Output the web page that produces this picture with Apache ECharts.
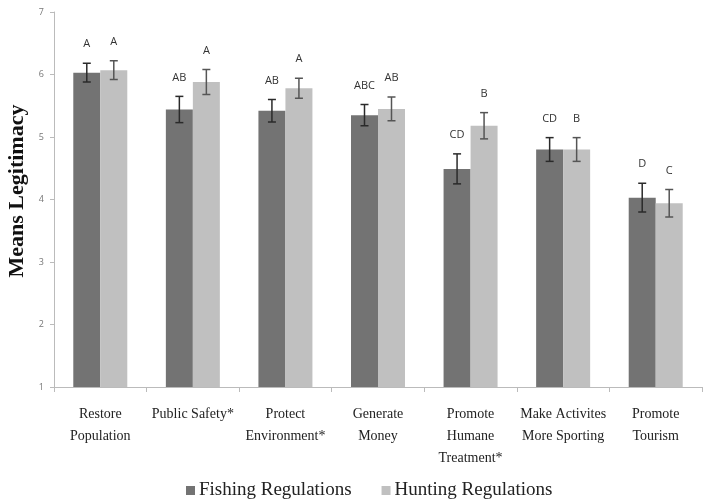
<!DOCTYPE html>
<html>
<head>
<meta charset="utf-8">
<script src="https://cdn.jsdelivr.net/npm/echarts@6/dist/echarts.min.js"></script>
<style>
  html, body { margin: 0; padding: 0; background: #fff; }
  #chart { width: 703px; height: 501px; }
</style>
</head>
<body>
<div id="chart"></div>
<script>
// Perceived legitimacy of regulation purposes (means with standard error)
const categories = [
  'Restore\nPopulation',
  'Public Safety*',
  'Protect\nEnvironment*',
  'Generate\nMoney',
  'Promote\nHumane\nTreatment*',
  'Make Activites\nMore Sporting',
  'Promote\nTourism'
];
const fishingMeans = [6.03, 5.44, 5.42, 5.35, 4.49, 4.80, 4.03];
const huntingMeans = [6.07, 5.88, 5.78, 5.45, 5.18, 4.80, 3.94];
const fishingErr = [0.15, 0.21, 0.18, 0.17, 0.24, 0.19, 0.23];
const huntingErr = [0.15, 0.20, 0.16, 0.19, 0.21, 0.19, 0.22];
const fishingLetters = ['A', 'AB', 'AB', 'ABC', 'CD', 'CD', 'D'];
const huntingLetters = ['A', 'A', 'A', 'AB', 'B', 'B', 'C'];
const yTicks = [1, 2, 3, 4, 5, 6, 7];
const yTitle = 'Means Legitimacy';

const BAR_W = 27;
const SERIF = '"Liberation Serif", "DejaVu Serif", serif';

function errorSeries(name, means, errs, letters, side, color) {
  return {
    name: name + ' SE',
    type: 'custom',
    z: 5,
    data: means.map((m, i) => [i, m, errs[i]]),
    renderItem: function (params, api) {
      const idx = api.value(0);
      const mean = api.value(1);
      const err = api.value(2);
      const top = api.coord([idx, mean + err]);
      const bot = api.coord([idx, mean - err]);
      const x = top[0] + side * BAR_W / 2;
      const cap = 4;
      const lineStyle = { stroke: color, lineWidth: 1.5 };
      return {
        type: 'group',
        children: [
          { type: 'line', shape: { x1: x, y1: top[1], x2: x, y2: bot[1] }, style: lineStyle },
          { type: 'line', shape: { x1: x - cap, y1: top[1], x2: x + cap, y2: top[1] }, style: lineStyle },
          { type: 'line', shape: { x1: x - cap, y1: bot[1], x2: x + cap, y2: bot[1] }, style: lineStyle },
          {
            type: 'text',
            style: {
              text: letters[idx], x: x, y: top[1] - 19,
              align: 'center', verticalAlign: 'middle',
              font: '11px "Open Sans", "DejaVu Sans", sans-serif',
              fill: '#333'
            }
          }
        ]
      };
    }
  };
}

const chart = echarts.init(document.getElementById('chart'), null, { renderer: 'canvas' });
chart.setOption({
  animation: false,
  backgroundColor: '#fff',
  grid: { left: 54, right: 1, top: 12, bottom: 114, containLabel: false },
  graphic: [{
    type: 'text',
    x: 17,
    y: 191,
    rotation: Math.PI / 2,
    style: {
      text: yTitle,
      align: 'center',
      verticalAlign: 'middle',
      font: 'bold 22px ' + SERIF,
      fill: '#111'
    }
  }],
  legend: {
    bottom: -4,
    left: 181,
    icon: 'rect',
    itemWidth: 9,
    itemHeight: 9,
    itemGap: 30,
    data: ['Fishing Regulations', 'Hunting Regulations'],
    textStyle: { fontFamily: SERIF, fontSize: 19, color: '#222', padding: [0, 0, 0, -1] }
  },
  xAxis: {
    type: 'category',
    data: categories,
    axisLine: { lineStyle: { color: '#bbb', width: 1 } },
    axisTick: { show: true, length: 5, lineStyle: { color: '#bbb' } },
    axisLabel: {
      interval: 0,
      margin: 16,
      color: '#222',
      fontFamily: SERIF,
      fontSize: 14,
      lineHeight: 22
    }
  },
  yAxis: {
    type: 'value',
    min: yTicks[0],
    max: yTicks[yTicks.length - 1],
    interval: 1,
    axisLine: { show: true, lineStyle: { color: '#bbb' } },
    axisTick: { show: true, length: 4, lineStyle: { color: '#bbb' } },
    splitLine: { show: false },
    axisLabel: {
      margin: 10,
      color: '#777',
      fontSize: 9,
      fontFamily: '"Open Sans", "DejaVu Sans", sans-serif'
    }
  },
  series: [
    {
      name: 'Fishing Regulations',
      type: 'bar',
      data: fishingMeans,
      barWidth: BAR_W,
      barGap: '0%',
      itemStyle: { color: '#737373' }
    },
    {
      name: 'Hunting Regulations',
      type: 'bar',
      data: huntingMeans,
      barWidth: BAR_W,
      barGap: '0%',
      itemStyle: { color: '#c0c0c0' }
    },
    errorSeries('Fishing Regulations', fishingMeans, fishingErr, fishingLetters, -1, '#2a2a2a'),
    errorSeries('Hunting Regulations', huntingMeans, huntingErr, huntingLetters, 1, '#555')
  ]
});
</script>
</body>
</html>
